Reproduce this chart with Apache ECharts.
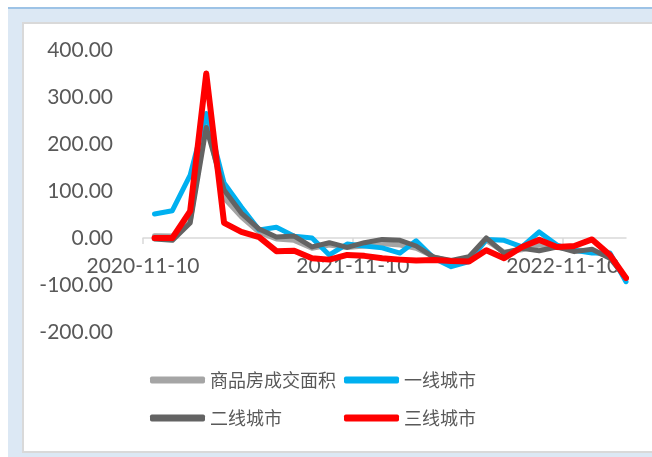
<!DOCTYPE html>
<html>
<head>
<meta charset="utf-8">
<script src="https://cdn.jsdelivr.net/npm/echarts@6/dist/echarts.min.js"></script>
<style>
  html, body { margin: 0; padding: 0; background: #fff; }
  #frame { position: absolute; left: 8px; top: 7px; width: 660px; height: 450px;
           background: #dce8f4; border-top: 2px solid #9dc3e6; }
  #panel { position: absolute; left: 22px; top: 22px; width: 660px; height: 427px;
           background: #fff; border: 2px solid #d9d9d9; }
  #chart { position: absolute; left: 0; top: 0; width: 652px; height: 457px; }
</style>
</head>
<body>
<div id="frame"></div>
<div id="panel"></div>
<div id="chart"></div>
<script>
// month-end observations
var dates = [
  '2020-11-30', '2020-12-31', '2021-01-31', '2021-02-28', '2021-03-31', '2021-04-30',
  '2021-05-31', '2021-06-30', '2021-07-31', '2021-08-31', '2021-09-30', '2021-10-31',
  '2021-11-30', '2021-12-31', '2022-01-31', '2022-02-28', '2022-03-31', '2022-04-30',
  '2022-05-31', '2022-06-30', '2022-07-31', '2022-08-31', '2022-09-30', '2022-10-31',
  '2022-11-30', '2022-12-31', '2023-01-31', '2023-02-28'
];
var axisStart = '2020-11-10';
var axisEnd = '2023-02-28';
var yTicks = [-200, -100, 0, 100, 200, 300, 400];

var spArea = [5, 4, 35, 250, 85, 45, 12, -2, -5, -22, -15, -20, -17, -12,
              -15, -22, -40, -50, -45, -5, -30, -25, -15, -20, -25, -28, -40, -88];
var tier1 = [51, 58, 134, 265, 117, 66, 17, 23, 4, 0, -36, -13, -17, -21,
             -32, -6, -43, -61, -50, -3, -5, -19, 13, -15, -26, -32, -32, -93];
var tier2 = [-2, -5, 32, 235, 102, 53, 19, 2, 4, -19, -10, -20, -10, -3,
             -5, -17, -41, -48, -40, 0, -32, -22, -27, -19, -29, -24, -43, -85];
var tier3 = [0, 0, 57, 350, 32, 13, 2, -28, -27, -43, -46, -36, -38, -43,
             -46, -48, -47, -49, -50, -26, -43, -19, -4, -19, -17, -3, -36, -85];

var DAY = 86400000;
var base = Date.parse(axisStart);
function dayOf(d) { return (Date.parse(d) - base) / DAY; }
function pts(arr) { return arr.map(function (v, i) { return [dayOf(dates[i]), v]; }); }

var chart = echarts.init(document.getElementById('chart'));
var font = 'Lato, "Noto Sans CJK SC", sans-serif';

var gridTop = 50, gridBottom = 125, plotH = 457 - gridTop - gridBottom;
var yMin = yTicks[0], yMax = yTicks[yTicks.length - 1];
// move the x axis (line, ticks, labels) up to the zero line
var zeroShift = plotH * (0 - yMin) / (yMax - yMin);

function line(name, data, color, width) {
  return {
    name: name, type: 'line', data: pts(data), symbol: 'none',
    lineStyle: { color: color, width: width, join: 'round', cap: 'round' },
    itemStyle: { color: color }
  };
}

var legendText = { color: '#595959', fontSize: 18, fontFamily: '"Noto Sans CJK SC", sans-serif' };

chart.setOption({
  backgroundColor: 'transparent',
  animation: false,
  grid: { left: 143, right: 26, top: gridTop, bottom: gridBottom },
  legend: [{
    data: ['商品房成交面积', '一线城市'],
    left: 150, top: 371, padding: 0, itemWidth: 55, itemHeight: 7, itemGap: 8,
    icon: 'roundRect', textStyle: legendText
  }, {
    data: ['二线城市', '三线城市'],
    left: 150, top: 409, padding: 0, itemWidth: 55, itemHeight: 7, itemGap: 62,
    icon: 'roundRect', textStyle: legendText
  }],
  xAxis: {
    type: 'value',
    min: 0, max: dayOf(axisEnd), interval: 365,
    offset: -zeroShift,
    axisLine: { onZero: false, lineStyle: { color: '#d9d9d9', width: 1.5 } },
    axisTick: { show: true, length: 6, lineStyle: { color: '#d9d9d9', width: 1.5 } },
    splitLine: { show: false },
    axisLabel: {
      color: '#595959', fontSize: 21, fontFamily: font, margin: 18,
      showMaxLabel: false,
      formatter: function (v) { return new Date(base + v * DAY).toISOString().slice(0, 10); }
    }
  },
  yAxis: {
    type: 'value',
    min: yMin, max: yMax, interval: 100,
    axisLine: { show: false },
    axisTick: { show: false },
    splitLine: { show: false },
    axisLabel: {
      color: '#595959', fontSize: 21, fontFamily: font, margin: 30,
      formatter: function (v) { return v.toFixed(2); }
    }
  },
  series: [
    line('商品房成交面积', spArea, '#a5a5a5', 5),
    line('一线城市', tier1, '#00b0f0', 5),
    line('二线城市', tier2, '#636363', 5),
    line('三线城市', tier3, '#ff0000', 6)
  ]
});
</script>
</body>
</html>
